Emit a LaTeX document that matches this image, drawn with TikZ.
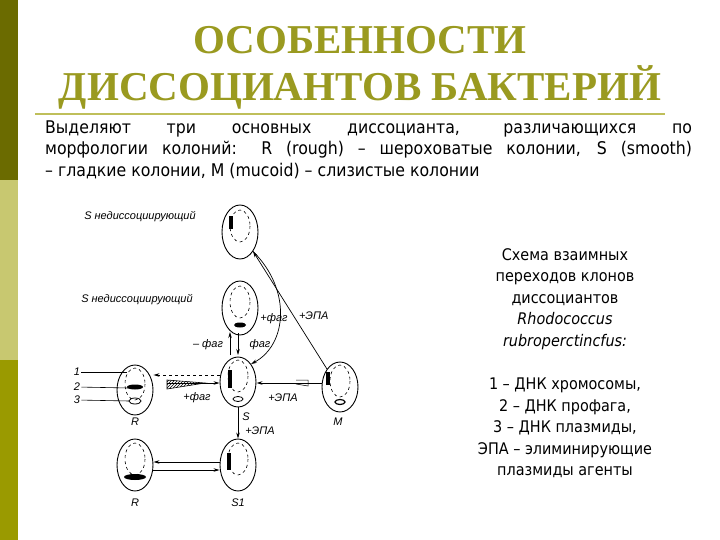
\documentclass[tikz,border=0pt]{standalone}
\usepackage{fontspec}
\setmainfont{DejaVu Sans Condensed}
\newfontfamily\titlefont{Liberation Serif}
\newfontfamily\labfont{Liberation Sans}
\usetikzlibrary{patterns,arrows.meta,shapes.geometric}
\definecolor{olivedark}{HTML}{6B6B00}
\definecolor{olivelight}{HTML}{C8C870}
\definecolor{olivemid}{HTML}{9A9A00}
\definecolor{titlecol}{HTML}{9A9A20}
\tikzset{
 cell/.style={draw,line width=0.9pt,ellipse,minimum width=36pt,minimum height=54pt,inner sep=0},
 lab/.style={font=\labfont\itshape\fontsize{11}{12}\selectfont,inner sep=1pt},
 arr/.style={-{Stealth[length=6pt,width=3.5pt]},line width=0.7pt},
 body/.style={font=\fontsize{17.5}{18}\selectfont,inner sep=0,anchor=west},
 side/.style={font=\fontsize{16}{21.4}\selectfont,inner sep=0}
}
\newcommand{\cellin}[3]{%
 \draw[dashed,line width=0.6pt] (#2,#3-6) ellipse (10 and 16);
}
\begin{document}
\begin{tikzpicture}[x=1pt,y=-1pt]
\useasboundingbox (0,0) rectangle (720,540);
\fill[white] (0,0) rectangle (720,540);
\fill[olivedark] (0,0) rectangle (18,180);
\fill[olivelight] (0,180) rectangle (18,360);
\fill[olivemid] (0,360) rectangle (18,540);
\node[font=\titlefont\bfseries\fontsize{41}{42}\selectfont,text=titlecol] (t1) at (360,40) {ОСОБЕННОСТИ};
\node[font=\titlefont\bfseries\fontsize{41}{42}\selectfont,text=titlecol] (t2) at (360,87) {ДИССОЦИАНТОВ БАКТЕРИЙ};
\draw[olivelight!80!olivemid,line width=2pt] (35,114) -- (665,114);
\node[body] (b1) at (45,129) {\makebox[647pt][s]{Выделяют три основных диссоцианта, различающихся по}};
\node[body] (b2) at (45,150) {\makebox[647pt][s]{морфологии колоний: R (rough) – шероховатые колонии, S (smooth)}};
\node[body] (b3) at (45,171) {– гладкие колонии, M (mucoid) – слизистые колонии};
\node[side,align=center] (sd1) at (565,299) {Схема взаимных\\переходов клонов\\диссоциантов\\\itshape Rhodococcus\\\itshape rubroperctincfus:};
\node[side,align=center] (sd2) at (565,428) {1 – ДНК хромосомы,\\2 – ДНК профага,\\3 – ДНК плазмиды,\\ЭПА – элиминирующие\\плазмиды агенты};
\node[cell] (top) at (240,232) {};
\node[cell] (mid) at (240,308) {};
\node[cell,minimum height=50pt] (S) at (238,382) {};
\node[cell,minimum height=50pt] (M) at (340,387) {};
\node[cell,minimum height=50pt] (R) at (135,390) {};
\node[cell,minimum height=52pt] (R2) at (135,465) {};
\node[cell,minimum height=52pt] (S1) at (238,465) {};
\cellin{top}{240}{232}\cellin{mid}{240}{308}\cellin{S}{238}{382}\cellin{M}{340}{387}
\cellin{R}{135}{390}\cellin{R2}{135}{465}\cellin{S1}{238}{465}
\fill (229,216) rectangle (233,229);
\fill (228,370) rectangle (232,388);
\fill (227,453) rectangle (231,470);
\fill (326,372) rectangle (330,385);
\fill (240,325) ellipse (6 and 2.5);
\fill (135,387) ellipse (8 and 2.5);
\fill (135,477) ellipse (11 and 3);
\draw[line width=0.8pt] (238,399) ellipse (5 and 2.5);
\draw[line width=0.8pt] (135,401) ellipse (6 and 3);
\draw[line width=1.2pt] (340,402) ellipse (5 and 2.5);
\node[lab] (l1) at (140,217) {S недиссоциирующий};
\node[lab] (l2) at (137,300) {S недиссоциирующий};
\node[lab] (lR) at (135,422) {R};
\node[lab] (lS) at (246,417) {S};
\node[lab] (lM) at (338,422) {M};
\node[lab] (lR2) at (135,503) {R};
\node[lab] (lS1) at (238,503) {S1};
\node[lab] (n1) at (77,372) {1};
\node[lab] (n2) at (77,387) {2};
\node[lab] (n3) at (77,400) {3};
\draw[line width=0.6pt] (n1) -- (127,372);
\draw[line width=0.6pt] (n2) -- (129,388);
\draw[line width=0.6pt] (n3) -- (129,401);
\draw[arr] (M.north west) -- (top.south east) node[lab,pos=0.45,right=4pt] {+ЭПА};
\draw[arr] (top.south east) .. controls (292,290) and (287,345) .. (S.north east);
\node[lab] (pf) at (274,319) {+фаг};
\draw[arr] (230,355) -- (230,332);
\draw[arr] (238,333) -- (238,355);
\node[lab] (mf) at (208,345) {– фаг};
\node[lab] (ff) at (260,345) {фаг};
\draw[arr,dashed] (S.west |- 0,375) -- (R.east |- 0,375);
\fill[pattern=north east lines] (167,380) -- (205,383) -- (167,389) -- cycle;
\draw[line width=0.6pt] (167,380) -- (205,383) -- (167,389) -- cycle;
\draw[arr] (167,383) -- (S.west |- 0,383);
\node[lab] (pf2) at (197,398) {+фаг};
\draw[arr,line width=1pt] (M.west |- 0,383) -- (S.east |- 0,383);
\draw[line width=0.5pt] (296,380) -- (308,380) -- (308,386) -- (296,384);
\node[lab] (pe) at (283,398) {+ЭПА};
\draw[arr] (S.south) -- (S1.north);
\node[lab] (pe2) at (260,431) {+ЭПА};
\draw[arr] (S1.west |- 0,462) -- (R2.east |- 0,462);
\draw[arr] (R2.east |- 0,470) -- (S1.west |- 0,470);
\end{tikzpicture}
\end{document}
